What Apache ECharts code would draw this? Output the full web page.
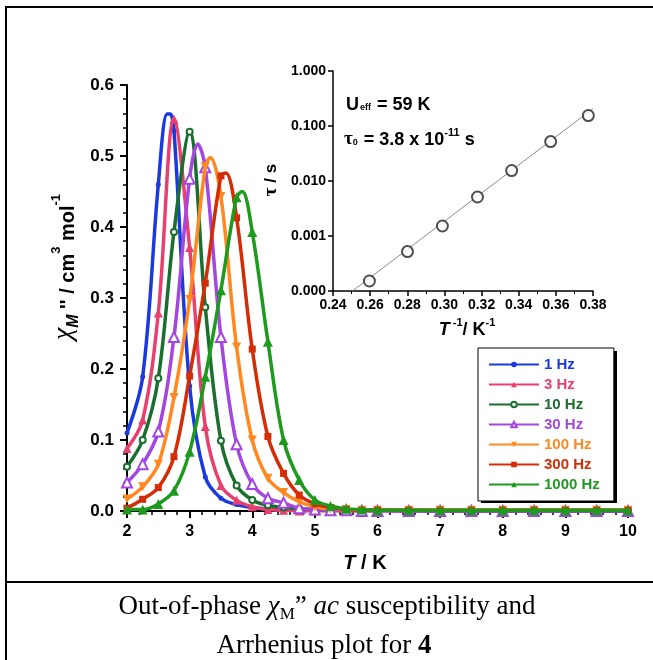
<!DOCTYPE html>
<html>
<head>
<meta charset="utf-8">
<script src="https://cdn.jsdelivr.net/npm/echarts@6/dist/echarts.min.js"></script>
<style>
  html, body { margin: 0; padding: 0; background: #fff; }
  #chart { width: 653px; height: 660px; }
</style>
</head>
<body>
<div id="chart"></div>
<script>
// temperatures (K) where markers sit
const temps = [2, 2.25, 2.5, 2.75, 3, 3.25, 3.5, 3.75, 4, 4.25, 4.5, 4.75, 5, 5.25, 5.5, 5.75, 6, 6.5, 7, 7.5, 8, 8.5, 9, 9.5, 10];

const freqNames = ['1 Hz', '3 Hz', '10 Hz', '30 Hz', '100 Hz', '300 Hz', '1000 Hz'];
const freqColors = ['#1a3ae0', '#e8406e', '#1a6e2e', '#a447e0', '#ff8820', '#d42c06', '#1e9a1e'];

// chi_M'' values (cm3 mol-1) read at the marker temperatures
const chi1Hz    = [0.110, 0.189, 0.460, 0.536, 0.176, 0.048, 0.018, 0.009, 0.005, 0.003, 0.002, 0.001, 0.001, 0.001, 0.001, 0.001, 0.001, 0, 0, 0, 0, 0, 0, 0, 0];
const chi3Hz    = [0.088, 0.128, 0.279, 0.552, 0.371, 0.119, 0.036, 0.015, 0.006, 0.002, 0.001, 0, 0, 0, 0, 0, 0, 0, 0, 0, 0, 0, 0, 0, 0];
const chi10Hz   = [0.0625, 0.100, 0.187, 0.393, 0.534, 0.287, 0.099, 0.036, 0.0155, 0.008, 0.005, 0.003, 0.002, 0.001, 0.001, 0.001, 0.001, 0.001, 0, 0, 0, 0, 0, 0, 0];
const chi30Hz   = [0.040, 0.066, 0.112, 0.245, 0.468, 0.484, 0.245, 0.094, 0.038, 0.018, 0.0115, 0.004, 0.002, 0.001, 0.001, 0, 0, 0, 0, 0, 0, 0, 0, 0, 0];
const chi100Hz  = [0.017, 0.034, 0.066, 0.160, 0.298, 0.485, 0.443, 0.231, 0.100, 0.046, 0.026, 0.013, 0.006, 0.003, 0.002, 0.001, 0.001, 0.001, 0.001, 0.001, 0.001, 0.001, 0.001, 0.001, 0.001];
const chi300Hz  = [0.004, 0.0165, 0.033, 0.0765, 0.190, 0.321, 0.472, 0.413, 0.228, 0.105, 0.053, 0.0225, 0.010, 0.005, 0.002, 0.001, 0.001, 0.001, 0.001, 0.001, 0.001, 0.001, 0.001, 0.001, 0.001];
const chi1000Hz = [0.002, 0.002, 0.010, 0.0286, 0.0836, 0.189, 0.311, 0.442, 0.393, 0.2385, 0.100, 0.0437, 0.0155, 0.007, 0.003, 0.002, 0.001, 0.001, 0.001, 0.001, 0.001, 0.001, 0.001, 0.001, 0.001];

// curve maxima between markers (no marker drawn there)
const peak1Hz = [[2.64, 0.559], [2.69, 0.559]];
const peak3Hz = [];
const peak10Hz = [];
const peak30Hz = [[3.13, 0.517]];
const peak100Hz = [[3.33, 0.498]];
const peak300Hz = [[3.58, 0.476]];
const peak1000Hz = [[3.84, 0.450]];

// Arrhenius inset: 1/T_peak and tau
const invT = [0.2596, 0.2801, 0.2989, 0.3178, 0.3362, 0.3572, 0.3775];
const tau = [0.000152, 0.00052, 0.00152, 0.00512, 0.0155, 0.052, 0.155];
const fitInvT = [0.2505, 0.38];
const fitTau = [0.0001, 0.207];

const chiSets = [chi1Hz, chi3Hz, chi10Hz, chi30Hz, chi100Hz, chi300Hz, chi1000Hz];
const peakSets = [peak1Hz, peak3Hz, peak10Hz, peak30Hz, peak100Hz, peak300Hz, peak1000Hz];
const symbols = [
  { symbol: 'circle', size: 5, rotate: 0 },
  { symbol: 'triangle', size: 9, rotate: 0 },
  { symbol: 'emptyCircle', size: 6, rotate: 0 },
  { symbol: 'emptyTriangle', size: 10, rotate: 0 },
  { symbol: 'triangle', size: 9, rotate: 180 },
  { symbol: 'rect', size: 7, rotate: 0 },
  { symbol: 'triangle', size: 10, rotate: 0 }
];

function buildData(values, peaks) {
  const pts = temps.map((t, i) => ({ value: [t, values[i]] }));
  peaks.forEach(p => pts.push({ value: p, symbol: 'none' }));
  pts.sort((a, b) => a.value[0] - b.value[0]);
  return pts;
}

const font = 'Liberation Sans';

const chiSeries = freqNames.map((name, i) => ({
  name: name,
  type: 'line',
  xAxisIndex: 0,
  yAxisIndex: 0,
  data: buildData(chiSets[i], peakSets[i]),
  smooth: 0.35,
  symbol: symbols[i].symbol,
  symbolSize: symbols[i].size,
  symbolRotate: symbols[i].rotate,
  showAllSymbol: true,
  color: freqColors[i],
  lineStyle: { width: 3.5, color: freqColors[i] },
  itemStyle: { color: freqColors[i], borderWidth: 1.5 },
  z: 2 + i
}));

const chart = echarts.init(document.getElementById('chart'));

const option = {
  backgroundColor: '#fff',
  animation: false,
  grid: [
    { left: 127, top: 85, width: 501, height: 426 },
    { left: 333, top: 71, width: 260, height: 220 }
  ],
  xAxis: [
    {
      type: 'value', gridIndex: 0, min: 2, max: 10, interval: 1,
      axisLine: { lineStyle: { color: '#000', width: 2 } },
      axisTick: { length: 7, lineStyle: { color: '#000', width: 2 } },
      minorTick: { show: true, splitNumber: 5, length: 4, lineStyle: { color: '#000', width: 1.5 } },
      splitLine: { show: false },
      axisLabel: { color: '#000', fontWeight: 'bold', fontSize: 16, fontFamily: font, margin: 13 }
    },
    {
      type: 'value', gridIndex: 1, min: 0.24, max: 0.38, interval: 0.02,
      axisLine: { lineStyle: { color: '#000', width: 1.5 } },
      axisTick: { length: 5, lineStyle: { color: '#000', width: 1.5 } },
      minorTick: { show: true, splitNumber: 2, length: 3, lineStyle: { color: '#000', width: 1 } },
      splitLine: { show: false },
      axisLabel: { color: '#000', fontWeight: 'bold', fontSize: 14, fontFamily: font, margin: 7,
        formatter: v => v.toFixed(2) }
    }
  ],
  yAxis: [
    {
      type: 'value', gridIndex: 0, min: 0, max: 0.6, interval: 0.1,
      axisLine: { show: true, lineStyle: { color: '#000', width: 2 } },
      axisTick: { show: true, length: 7, lineStyle: { color: '#000', width: 2 } },
      minorTick: { show: true, splitNumber: 5, length: 4, lineStyle: { color: '#000', width: 1.5 } },
      splitLine: { show: false },
      axisLabel: { color: '#000', fontWeight: 'bold', fontSize: 17, fontFamily: font, margin: 13,
        formatter: v => v.toFixed(1) }
    },
    {
      type: 'log', logBase: 10, gridIndex: 1, min: 0.0001, max: 1,
      axisLine: { show: true, lineStyle: { color: '#000', width: 1.5 } },
      axisTick: { show: true, length: 5, lineStyle: { color: '#000', width: 1.5 } },
      splitLine: { show: false },
      axisLabel: { color: '#000', fontWeight: 'bold', fontSize: 14, fontFamily: font, margin: 7,
        formatter: v => Number(v).toFixed(3) }
    }
  ],
  legend: {
    orient: 'vertical', left: 478, top: 348,
    padding: [8, 14, 8, 10],
    itemWidth: 50, itemHeight: 7, itemGap: 3,
    backgroundColor: '#fff', borderColor: '#000', borderWidth: 1,
    textStyle: { fontSize: 15, fontWeight: 'bold', fontFamily: font, lineHeight: 17 },
    data: freqNames.map((n, i) => ({ name: n, textStyle: { color: freqColors[i] } }))
  },
  series: chiSeries.concat([
    {
      type: 'line', xAxisIndex: 1, yAxisIndex: 1,
      data: fitInvT.map((x, i) => [x, fitTau[i]]),
      symbol: 'none', lineStyle: { color: '#8a8a8a', width: 1 }, z: 3
    },
    {
      type: 'scatter', xAxisIndex: 1, yAxisIndex: 1,
      data: invT.map((x, i) => [x, tau[i]]),
      symbol: 'emptyCircle', symbolSize: 11,
      itemStyle: { color: '#222', borderWidth: 1 }, z: 4
    }
  ]),
  graphic: [
    { type: 'line', shape: { x1: 6, y1: 7, x2: 653, y2: 7 }, style: { stroke: '#000', lineWidth: 2 } },
    { type: 'line', shape: { x1: 6, y1: 6, x2: 6, y2: 660 }, style: { stroke: '#000', lineWidth: 2 } },
    { type: 'line', shape: { x1: 6, y1: 582, x2: 653, y2: 582 }, style: { stroke: '#000', lineWidth: 2 } },
    // legend drop shadow
    { type: 'rect', z: 1, shape: { x: 481, y: 351, width: 136, height: 152 }, style: { fill: '#000' } },
    {
      type: 'text', x: 63, y: 267, rotation: Math.PI / 2,
      style: {
        text: '{chi|χ}{sub|M}{b| \'\' / cm}{sup|3}{b| mol}{sup|-1}',
        align: 'center', verticalAlign: 'middle', fill: '#000',
        rich: {
          chi: { fontSize: 28, fontStyle: 'italic', fontFamily: 'Liberation Serif', lineHeight: 30, verticalAlign: 'bottom' },
          sub: { fontSize: 16, fontStyle: 'italic', fontWeight: 'bold', fontFamily: font, lineHeight: 30, verticalAlign: 'bottom', padding: [0, 0, -4, 0] },
          b: { fontSize: 20, fontWeight: 'bold', fontFamily: font, lineHeight: 30, verticalAlign: 'bottom' },
          sup: { fontSize: 13, fontWeight: 'bold', fontFamily: font, lineHeight: 30, verticalAlign: 'top', padding: [2, 0, 0, 0] }
        }
      }
    },
    {
      type: 'text', x: 365, y: 563,
      style: {
        text: '{it|T}{b| / K}', align: 'center', verticalAlign: 'middle', fill: '#000',
        rich: {
          it: { fontSize: 20, fontWeight: 'bold', fontStyle: 'italic', fontFamily: font },
          b: { fontSize: 20, fontWeight: 'bold', fontFamily: font }
        }
      }
    },
    {
      type: 'text', x: 271, y: 180, rotation: Math.PI / 2,
      style: {
        text: '{t|τ}{b| / s}', align: 'center', verticalAlign: 'middle', fill: '#000',
        rich: {
          t: { fontSize: 19, fontFamily: 'Liberation Serif', fontWeight: 'bold' },
          b: { fontSize: 17, fontWeight: 'bold', fontFamily: font }
        }
      }
    },
    {
      type: 'text', x: 467, y: 328,
      style: {
        text: '{it|T}{sup| -1}{b|/ K}{sup|-1}', align: 'center', verticalAlign: 'middle', fill: '#000',
        rich: {
          it: { fontSize: 18, fontWeight: 'bold', fontStyle: 'italic', fontFamily: font, lineHeight: 22, verticalAlign: 'bottom' },
          b: { fontSize: 18, fontWeight: 'bold', fontFamily: font, lineHeight: 22, verticalAlign: 'bottom' },
          sup: { fontSize: 11, fontWeight: 'bold', fontFamily: font, lineHeight: 22, verticalAlign: 'top' }
        }
      }
    },
    {
      type: 'text', x: 346, y: 103,
      style: {
        text: '{b|U}{s|eff}{b| = 59 K}', align: 'left', verticalAlign: 'middle', fill: '#000',
        rich: {
          b: { fontSize: 18, fontWeight: 'bold', fontFamily: font, lineHeight: 22, verticalAlign: 'bottom' },
          s: { fontSize: 9, fontWeight: 'bold', fontFamily: font, lineHeight: 22, verticalAlign: 'bottom', padding: [0, 1, 2, 1] }
        }
      }
    },
    {
      type: 'text', x: 344, y: 138,
      style: {
        text: '{t|τ}{s|0}{b| = 3.8 x 10}{p|-11}{b| s}', align: 'left', verticalAlign: 'middle', fill: '#000',
        rich: {
          t: { fontSize: 19, fontWeight: 'bold', fontFamily: 'Liberation Serif', lineHeight: 22, verticalAlign: 'bottom' },
          s: { fontSize: 9, fontWeight: 'bold', fontFamily: font, lineHeight: 22, verticalAlign: 'bottom', padding: [0, 1, 2, 0] },
          b: { fontSize: 18, fontWeight: 'bold', fontFamily: font, lineHeight: 22, verticalAlign: 'bottom' },
          p: { fontSize: 11, fontWeight: 'bold', fontFamily: font, lineHeight: 22, verticalAlign: 'top' }
        }
      }
    },
    {
      type: 'text', x: 327, y: 604,
      style: {
        text: '{r|Out-of-phase }{c|χ}{m|M}{r|” }{i|ac}{r| susceptibility and}',
        align: 'center', verticalAlign: 'middle', fill: '#000',
        rich: {
          r: { fontSize: 27, fontFamily: 'Liberation Serif', lineHeight: 32, verticalAlign: 'bottom' },
          i: { fontSize: 27, fontFamily: 'Liberation Serif', fontStyle: 'italic', lineHeight: 32, verticalAlign: 'bottom' },
          c: { fontSize: 27, fontFamily: 'Liberation Serif', fontStyle: 'italic', lineHeight: 32, verticalAlign: 'bottom' },
          m: { fontSize: 17, fontFamily: 'Liberation Serif', lineHeight: 32, verticalAlign: 'bottom', padding: [0, 0, -3, 0] }
        }
      }
    },
    {
      type: 'text', x: 324, y: 646,
      style: {
        text: '{r|Arrhenius plot for }{b|4}',
        align: 'center', verticalAlign: 'middle', fill: '#000',
        rich: {
          r: { fontSize: 27, fontFamily: 'Liberation Serif' },
          b: { fontSize: 27, fontFamily: 'Liberation Serif', fontWeight: 'bold' }
        }
      }
    }
  ]
};

chart.setOption(option);
</script>
</body>
</html>
